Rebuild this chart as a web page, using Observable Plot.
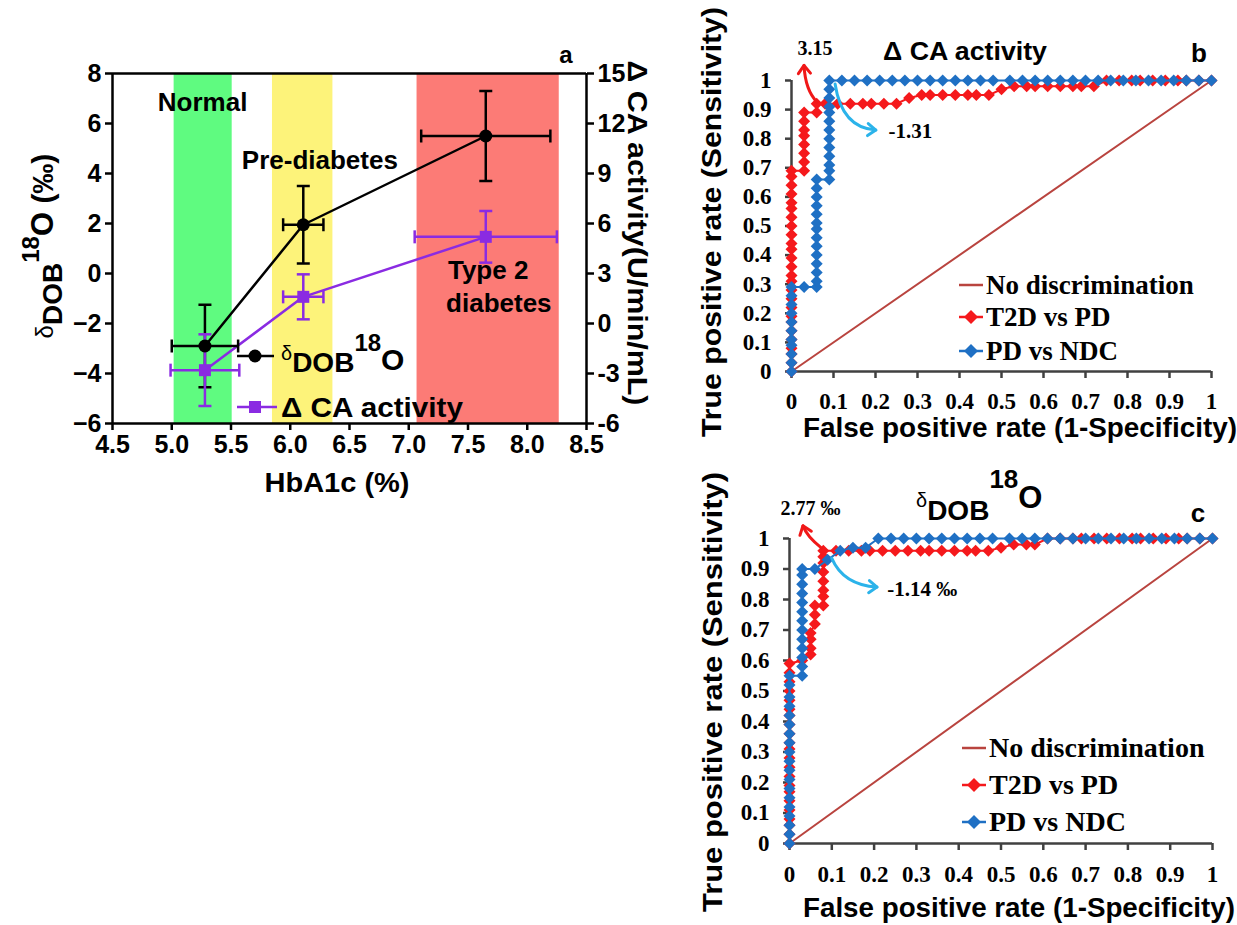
<!DOCTYPE html>
<html>
<head>
<meta charset="utf-8">
<script src="https://cdn.jsdelivr.net/npm/d3@7"></script>
<script src="https://cdn.jsdelivr.net/npm/@observablehq/plot@0.6"></script>
<style>
html,body{margin:0;padding:0;background:#fff;}
#fig{position:relative;width:1237px;height:925px;overflow:hidden;background:#fff;}
#fig svg{position:absolute;overflow:visible;}
</style>
</head>
<body>
<div id="fig"></div>
<script>
// ---------------- Panel a data ----------------
const groupNames = ["Normal", "Pre-diabetes", "Type 2 diabetes"];
const hba1cMean = [5.28, 6.11, 7.65];
const hba1cErrDOB = [0.28, 0.17, 0.545];
const hba1cErrCA = [0.29, 0.17, 0.6];
const dob18OMean = [-2.9, 1.95, 5.5];
const dob18OErr = [1.65, 1.55, 1.8];
const caActivityMean = [-2.8, 1.6, 5.2];
const caActivityErr = [2.15, 1.35, 1.55];
const bandFrom = [5.02, 5.85, 7.07];
const bandTo = [5.51, 6.36, 8.27];
const hbTicks = [4.5, 5.0, 5.5, 6.0, 6.5, 7.0, 7.5, 8.0, 8.5];
const dobTicks = [-6, -4, -2, 0, 2, 4, 6, 8];
const caTicks = [-6, -3, 0, 3, 6, 9, 12, 15];

// ---------------- ROC data (FPR, TPR) ----------------
const rocTicks = [0, 0.1, 0.2, 0.3, 0.4, 0.5, 0.6, 0.7, 0.8, 0.9, 1];
const rocTickLabels = ["0", "0.1", "0.2", "0.3", "0.4", "0.5", "0.6", "0.7", "0.8", "0.9", "1"];
const noDiscrimination = [[0, 0], [1, 1]];
const rocCA_T2DvsPD = [
  [0,0],[0,.03],[0,.06],[0,.08],[0,.11],[0,.14],[0,.17],[0,.19],[0,.22],[0,.25],[0,.28],[0,.31],[0,.33],
  [0,.36],[0,.39],[0,.42],[0,.44],[0,.47],[0,.5],[0,.53],[0,.56],[0,.58],[0,.61],[0,.64],[0,.67],[0,.69],
  [.03,.69],[.03,.72],[.03,.75],[.03,.78],[.03,.81],[.03,.83],[.03,.86],[.03,.89],
  [.06,.89],[.06,.92],
  [.08,.92],[.11,.92],[.14,.92],[.17,.92],[.19,.92],[.22,.92],[.25,.92],
  [.28,.94],[.31,.95],[.33,.95],[.36,.95],[.39,.95],[.42,.95],[.44,.95],[.47,.95],
  [.5,.97],[.53,.98],[.56,.98],[.58,.98],[.61,.98],[.64,.98],[.67,.98],[.69,.98],[.72,.98],
  [.75,1],[.78,1],[.81,1],[.83,1],[.86,1],[.89,1],[.92,1],[.94,1],[.97,1],[1,1]
];
const rocCA_PDvsNDC = [
  [0,0],[0,.03],[0,.06],[0,.09],[0,.11],[0,.14],[0,.17],[0,.2],[0,.23],[0,.26],[0,.29],
  [.03,.29],[.06,.29],
  [.06,.31],[.06,.34],[.06,.37],[.06,.4],[.06,.43],[.06,.46],[.06,.49],[.06,.51],[.06,.54],[.06,.57],[.06,.6],[.06,.63],[.06,.66],
  [.09,.66],[.09,.69],[.09,.71],[.09,.74],[.09,.77],[.09,.8],[.09,.83],[.09,.86],[.09,.89],[.09,.91],[.09,.94],[.09,.97],[.09,1],
  [.12,1],[.15,1],[.18,1],[.21,1],[.24,1],[.27,1],[.3,1],[.33,1],[.36,1],[.39,1],[.42,1],[.45,1],[.48,1],
  [.52,1],[.55,1],[.58,1],[.61,1],[.64,1],[.67,1],[.7,1],[.73,1],[.76,1],[.79,1],[.82,1],[.85,1],[.88,1],[.91,1],[.94,1],[.97,1],[1,1]
];
const rocDOB_T2DvsPD = [
  [0,0],[0,.03],[0,.06],[0,.08],[0,.11],[0,.14],[0,.17],[0,.19],[0,.22],[0,.25],[0,.28],[0,.31],[0,.33],
  [0,.36],[0,.39],[0,.42],[0,.44],[0,.47],[0,.5],[0,.53],[0,.56],[0,.59],
  [.03,.6],[.05,.62],[.05,.64],[.05,.67],[.05,.69],[.06,.72],[.06,.75],[.06,.78],
  [.08,.78],[.08,.81],[.08,.83],[.08,.86],[.08,.89],[.08,.92],[.08,.94],[.08,.96],
  [.11,.96],[.14,.96],[.17,.96],[.19,.96],[.22,.96],[.25,.96],[.28,.96],[.31,.96],[.33,.96],[.36,.96],
  [.39,.96],[.42,.96],[.44,.96],[.47,.96],[.5,.97],[.53,.98],[.56,.98],[.58,.98],
  [.61,1],[.64,1],[.67,1],[.69,1],[.72,1],[.75,1],[.78,1],[.81,1],[.83,1],[.86,1],[.89,1],[.92,1],[.94,1],[.97,1],[1,1]
];
const rocDOB_PDvsNDC = [
  [0,0],[0,.03],[0,.06],[0,.09],[0,.12],[0,.15],[0,.18],[0,.21],[0,.24],[0,.27],[0,.3],[0,.33],[0,.36],
  [0,.39],[0,.42],[0,.45],[0,.48],[0,.52],[0,.55],
  [.03,.55],[.03,.58],[.03,.61],[.03,.64],[.03,.67],[.03,.7],[.03,.73],[.03,.76],[.03,.79],[.03,.82],[.03,.85],[.03,.88],[.03,.9],
  [.06,.9],[.09,.93],[.12,.96],[.15,.97],[.18,.97],
  [.21,1],[.24,1],[.27,1],[.3,1],[.33,1],[.36,1],[.39,1],[.42,1],[.45,1],[.48,1],[.52,1],[.55,1],[.58,1],
  [.61,1],[.64,1],[.67,1],[.7,1],[.73,1],[.76,1],[.79,1],[.82,1],[.85,1],[.88,1],[.91,1],[.94,1],[.97,1],[1,1]
];

// ---------------- styling ----------------
const SANS = "'Liberation Sans', Arial, sans-serif";
const SERIF = "'Liberation Serif', 'Times New Roman', serif";
const PURPLE = "#8a2be2";
const RED = "#f5191c";
const BLUE = "#1f70c4";
const DIAG = "#b9443f";
const bandColors = ["#5ffb80", "#fdf37a", "#fc7b76"];

const hcap = {draw(c, s) { const r = Math.sqrt(s / Math.PI); c.moveTo(-r, 0); c.lineTo(r, 0); }};
const vcap = {draw(c, s) { const r = Math.sqrt(s / Math.PI); c.moveTo(0, -r); c.lineTo(0, r); }};
const sq = {draw(c, s) { const r = Math.sqrt(s / Math.PI); c.rect(-r, -r, 2 * r, 2 * r); }};
const dia = {draw(c, s) { const r = Math.sqrt(s / Math.PI); c.moveTo(0, -r); c.lineTo(r, 0); c.lineTo(0, r); c.lineTo(-r, 0); c.closePath(); }};

const fig = document.getElementById("fig");
function mount(svg, left, top) { svg.style.left = left + "px"; svg.style.top = top + "px"; fig.appendChild(svg); }

function txt(svg, o) {
  const t = d3.select(svg).append("text")
    .attr("transform", `translate(${o.x},${o.y}) rotate(${o.rotate || 0})`)
    .attr("text-anchor", o.anchor || "start")
    .attr("font-family", o.family || SANS)
    .attr("font-weight", o.weight || "bold")
    .attr("font-size", o.size)
    .attr("fill", o.fill || "#000");
  if (o.parts) {
    for (const p of o.parts) {
      t.append("tspan").attr("font-size", p.size || o.size).attr("dy", p.dy || 0)
        .attr("font-weight", p.weight || o.weight || "bold").text(p.text);
    }
  } else t.text(o.text);
  if (o.length) t.attr("textLength", o.length).attr("lengthAdjust", "spacingAndGlyphs");
  return t;
}

function arrow(svg, sx, sy, pts, color) {
  const p = pts.map(([a, b]) => [sx(a), sy(b)]);
  const g = d3.select(svg).append("g").attr("fill", "none").attr("stroke", color)
    .attr("stroke-width", 3).attr("stroke-linecap", "round").attr("stroke-linejoin", "round");
  g.append("path").attr("d", `M${p[0]}Q${p[1]} ${p[2]}`);
  const ang = Math.atan2(p[2][1] - p[1][1], p[2][0] - p[1][0]);
  const L = 10, sp = 0.65;
  const h1 = [p[2][0] - L * Math.cos(ang - sp), p[2][1] - L * Math.sin(ang - sp)];
  const h2 = [p[2][0] - L * Math.cos(ang + sp), p[2][1] - L * Math.sin(ang + sp)];
  g.append("path").attr("d", `M${h1}L${p[2]}L${h2}`);
}

// ---------------- Panel a ----------------
const toLeft = r => -6 + (r + 6) * 14 / 21;
const dobPts = groupNames.map((g, i) => ({g, x: hba1cMean[i], y: dob18OMean[i], ye: dob18OErr[i], xe: hba1cErrDOB[i]}));
const caPts = groupNames.map((g, i) => ({g, x: hba1cMean[i], y: toLeft(caActivityMean[i]), ye: caActivityErr[i] * 14 / 21, xe: hba1cErrCA[i]}));
const bands = groupNames.map((g, i) => ({g, x1: bandFrom[i], x2: bandTo[i], fill: bandColors[i]}));

function errMarks(pts, color) {
  return [
    Plot.ruleX(pts, {x: "x", y1: d => d.y - d.ye, y2: d => d.y + d.ye, stroke: color, strokeWidth: 2.5}),
    Plot.ruleY(pts, {y: "y", x1: d => d.x - d.xe, x2: d => d.x + d.xe, stroke: color, strokeWidth: 2.5}),
    Plot.dot(pts.flatMap(d => [{x: d.x, y: d.y - d.ye}, {x: d.x, y: d.y + d.ye}]), {x: "x", y: "y", symbol: hcap, r: 6.5, fill: "none", stroke: color, strokeWidth: 2.5}),
    Plot.dot(pts.flatMap(d => [{x: d.x - d.xe, y: d.y}, {x: d.x + d.xe, y: d.y}]), {x: "x", y: "y", symbol: vcap, r: 6.5, fill: "none", stroke: color, strokeWidth: 2.5})
  ];
}

const chartA = Plot.plot({
  width: 680, height: 500,
  marginLeft: 112, marginRight: 94, marginTop: 73, marginBottom: 77,
  x: {domain: [4.5, 8.5]},
  y: {domain: [-6, 8]},
  color: {type: "identity"},
  style: {fontFamily: SANS, fontSize: "25px", fontWeight: "bold", background: "transparent", color: "#000"},
  marks: [
    Plot.rect(bands, {x1: "x1", x2: "x2", y1: -6, y2: 8, fill: "fill"}),
    Plot.text(["Normal"], {x: 5.26, y: 6.84, text: d => d, fontSize: 26, fontWeight: "bold"}),
    Plot.text(["Pre-diabetes"], {x: 6.25, y: 4.52, text: d => d, fontSize: 26, fontWeight: "bold"}),
    Plot.text(["Type 2"], {x: 7.67, y: 0.12, text: d => d, fontSize: 26, fontWeight: "bold"}),
    Plot.text(["diabetes"], {x: 7.76, y: -1.2, text: d => d, fontSize: 26, fontWeight: "bold"}),
    Plot.ruleY([8], {stroke: "#000", strokeWidth: 2.5}),
    Plot.ruleY([-6], {stroke: "#000", strokeWidth: 2.5}),
    Plot.ruleX([4.5], {stroke: "#000", strokeWidth: 2.5}),
    Plot.ruleX([8.5], {stroke: "#000", strokeWidth: 2.5}),
    Plot.axisX({ticks: hbTicks, tickFormat: d3.format(".1f"), tickSize: 7, tickPadding: 5, strokeWidth: 2.5, label: null}),
    Plot.axisY({ticks: dobTicks, tickSize: 7, tickPadding: 4, strokeWidth: 2.5, label: null}),
    Plot.axisY({anchor: "right", ticks: dobTicks, tickFormat: (t) => String(caTicks[dobTicks.indexOf(t)]), tickSize: 7, tickPadding: 4, strokeWidth: 2.5, label: null}),
    Plot.line(dobPts, {x: "x", y: "y", stroke: "#000", strokeWidth: 2.5}),
    Plot.line(caPts, {x: "x", y: "y", stroke: PURPLE, strokeWidth: 2.5}),
    ...errMarks(dobPts, "#000"),
    ...errMarks(caPts, PURPLE),
    Plot.dot(dobPts, {x: "x", y: "y", r: 6.5, fill: "#000"}),
    Plot.dot(caPts, {x: "x", y: "y", symbol: sq, r: 6, fill: PURPLE})
  ]
});
mount(chartA, 0, 0);
{
  const s = chartA;
  // left axis title: δDOB 18O (‰)
  txt(s, {x: 53, y: 246, rotate: -90, anchor: "middle", size: 30, parts: [
    {text: "δ", size: 24, weight: "normal"},
    {text: "DOB", size: 28, dy: 9},
    {text: "18", size: 24, dy: -23},
    {text: "O", size: 31, dy: 14},
    {text: " (‰)", size: 30}
  ]});
  // right axis title
  txt(s, {x: 628, y: 233, rotate: 90, anchor: "middle", size: 27, text: "Δ CA activity(U/min/mL)", length: 345});
  // x title
  txt(s, {x: 337, y: 492, anchor: "middle", size: 27, text: "HbA1c (%)", length: 145});
  // panel letter
  txt(s, {x: 566, y: 63, anchor: "middle", size: 24, text: "a"});
  // legend
  const g = d3.select(s).append("g");
  g.append("line").attr("x1", 237).attr("x2", 274).attr("y1", 356).attr("y2", 356).attr("stroke", "#000").attr("stroke-width", 2.5);
  g.append("circle").attr("cx", 255).attr("cy", 356).attr("r", 6.5).attr("fill", "#000");
  g.append("line").attr("x1", 237).attr("x2", 277).attr("y1", 407).attr("y2", 407).attr("stroke", PURPLE).attr("stroke-width", 2.5);
  g.append("rect").attr("x", 249).attr("y", 401).attr("width", 12).attr("height", 12).attr("fill", PURPLE);
  txt(s, {x: 281, y: 372, size: 28, parts: [
    {text: "δ", size: 20, weight: "normal", dy: -12},
    {text: "DOB", size: 28, dy: 12},
    {text: "18", size: 24, dy: -21},
    {text: "O", size: 30, dy: 19}
  ]});
  txt(s, {x: 281, y: 417, size: 27, text: "Δ CA activity", length: 182});
}

// ---------------- ROC panels ----------------
function rocChart(width, height, margins, red, blue) {
  return Plot.plot({
    width, height,
    marginLeft: margins[0], marginRight: margins[1], marginTop: margins[2], marginBottom: margins[3],
    x: {domain: [0, 1]},
    y: {domain: [0, 1]},
    style: {fontFamily: SERIF, fontSize: "23px", fontWeight: "bold", background: "transparent", color: "#000"},
    marks: [
      Plot.ruleX([0], {stroke: "#404040", strokeWidth: 2.5}),
      Plot.ruleY([0], {stroke: "#404040", strokeWidth: 2.5}),
      Plot.axisX({ticks: rocTicks, tickFormat: (d) => rocTickLabels[rocTicks.indexOf(d)], tickSize: 7, tickPadding: margins[4], stroke: "#404040", strokeWidth: 2.5, label: null}),
      Plot.axisY({ticks: rocTicks, tickFormat: (d) => rocTickLabels[rocTicks.indexOf(d)], tickSize: 6, tickPadding: 14, stroke: "#404040", strokeWidth: 2.5, label: null}),
      Plot.line(noDiscrimination, {x: d => d[0], y: d => d[1], stroke: DIAG, strokeWidth: 2}),
      Plot.line(red, {x: d => d[0], y: d => d[1], stroke: RED, strokeWidth: 2}),
      Plot.dot(red, {x: d => d[0], y: d => d[1], symbol: dia, r: 6, fill: RED}),
      Plot.line(blue, {x: d => d[0], y: d => d[1], stroke: BLUE, strokeWidth: 2}),
      Plot.dot(blue, {x: d => d[0], y: d => d[1], symbol: dia, r: 6, fill: BLUE})
    ]
  });
}

function rocLegend(svg, x0, ys, size) {
  const g = d3.select(svg).append("g");
  const x1 = x0 + 24, xm = x0 + 12;
  g.append("line").attr("x1", x0).attr("x2", x1).attr("y1", ys[0]).attr("y2", ys[0]).attr("stroke", DIAG).attr("stroke-width", 2.5);
  [[ys[1], RED], [ys[2], BLUE]].forEach(([y, c]) => {
    g.append("line").attr("x1", x0).attr("x2", x1).attr("y1", y).attr("y2", y).attr("stroke", c).attr("stroke-width", 2.5);
    g.append("path").attr("d", `M${xm},${y - 7}L${xm + 7},${y}L${xm},${y + 7}L${xm - 7},${y}Z`).attr("fill", c);
  });
  ["No discrimination", "T2D vs PD", "PD vs NDC"].forEach((t, i) =>
    txt(svg, {x: x1 + 3, y: ys[i] + 9, size, family: SERIF, text: t}));
}

// Panel b
const chartB = rocChart(557, 460, [111, 26, 80, 89, 14], rocCA_T2DvsPD, rocCA_PDvsNDC);
mount(chartB, 680, 0);
{
  const s = chartB;
  const X = v => chartB.scale("x").apply(v), Y = v => chartB.scale("y").apply(v);
  txt(s, {x: 41, y: 222, rotate: -90, anchor: "middle", size: 27, text: "True positive rate (Sensitivity)", length: 430});
  txt(s, {x: 340, y: 437, anchor: "middle", size: 27, text: "False positive rate (1-Specificity)", length: 434});
  txt(s, {x: 285, y: 60, anchor: "middle", size: 26, text: "Δ CA activity", length: 164});
  txt(s, {x: 519, y: 62, anchor: "middle", size: 26, text: "b"});
  txt(s, {x: X(0.057), y: Y(1.085), anchor: "middle", size: 20, family: SERIF, text: "3.15"});
  txt(s, {x: X(0.232), y: Y(0.8), anchor: "start", size: 21, family: SERIF, text: "-1.31"});
  arrow(s, X, Y, [[0.062, 0.924], [0.034, 0.965], [0.031, 1.05]], "#f01818");
  arrow(s, X, Y, [[0.105, 0.986], [0.121, 0.835], [0.202, 0.828]], "#2bb3ea");
  rocLegend(s, 279, [285, 317, 351], 27);
}

// Panel c
const chartC = rocChart(557, 465, [109, 25, 78, 82, 15], rocDOB_T2DvsPD, rocDOB_PDvsNDC);
mount(chartC, 680, 460);
{
  const s = chartC;
  const X = v => chartC.scale("x").apply(v), Y = v => chartC.scale("y").apply(v);
  txt(s, {x: 42, y: 232, rotate: -90, anchor: "middle", size: 27, text: "True positive rate (Sensitivity)", length: 440});
  txt(s, {x: 339, y: 457, anchor: "middle", size: 27, text: "False positive rate (1-Specificity)", length: 432});
  txt(s, {x: 236, y: 47, size: 28, parts: [
    {text: "δ", size: 20, weight: "normal"},
    {text: "DOB", size: 28, dy: 13},
    {text: "18", size: 26, dy: -32},
    {text: "O", size: 31, dy: 20}
  ]});
  txt(s, {x: 518, y: 62, anchor: "middle", size: 26, text: "c"});
  txt(s, {x: X(-0.02), y: Y(1.075), anchor: "start", size: 20, family: SERIF, text: "2.77 ‰"});
  txt(s, {x: X(0.232), y: Y(0.81), anchor: "start", size: 21, family: SERIF, text: "-1.14 ‰"});
  arrow(s, X, Y, [[0.077, 0.967], [0.042, 1.005], [0.033, 1.04]], "#f01818");
  arrow(s, X, Y, [[0.101, 0.934], [0.128, 0.846], [0.208, 0.839]], "#2bb3ea");
  rocLegend(s, 282, [288, 325, 362], 28);
}
</script>
</body>
</html>
